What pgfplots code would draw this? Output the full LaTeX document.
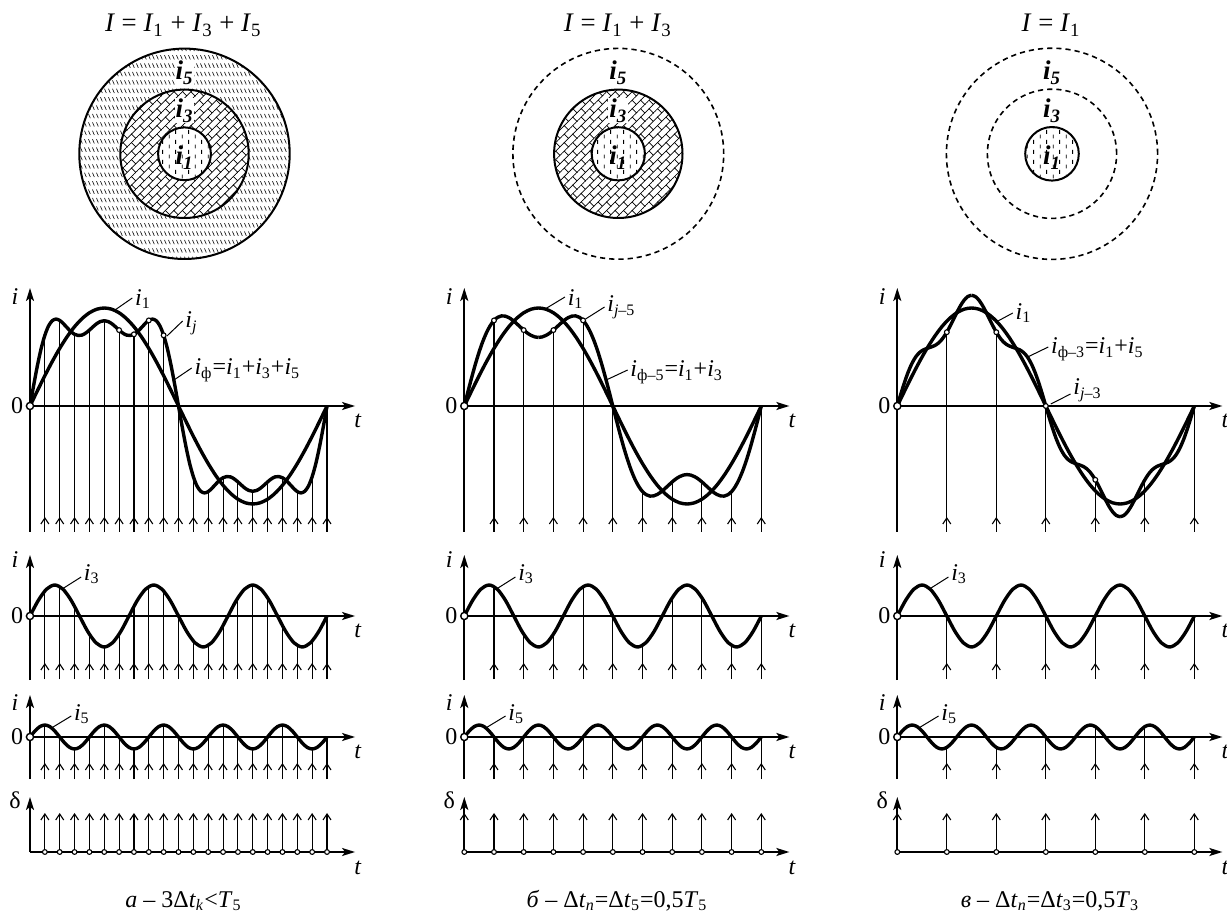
\documentclass[border=0pt]{standalone}
\usepackage{fontspec}
\setmainfont{Liberation Serif}
\usepackage{pgfplots}
\pgfplotsset{compat=1.18}
\usepackage{pgfplotstable}
\usetikzlibrary{arrows.meta,patterns.meta}

\newcommand{\sub}[1]{\textsubscript{#1}}

% ---- fill patterns for the three harmonic zones ----
\pgfdeclarepattern{
  name=slashrows,
  bottom left={\pgfpoint{-0.1pt}{-0.1pt}},
  top right={\pgfpoint{2.1pt}{4.3pt}},
  tile size={\pgfpoint{2pt}{4.2pt}},
  code={
    \pgfsetlinewidth{0.3pt}
    \pgfpathmoveto{\pgfpoint{0.25pt}{3.5pt}}
    \pgfpathlineto{\pgfpoint{1.15pt}{1.4pt}}
    \pgfusepath{stroke}
  }
}
\pgfdeclarepattern{
  name=brickwall,
  bottom left={\pgfpoint{-0.3pt}{-0.3pt}},
  top right={\pgfpoint{6.3pt}{6.3pt}},
  tile size={\pgfpoint{6pt}{6pt}},
  tile transformation={\pgftransformrotate{45}},
  code={
    \pgfsetlinewidth{0.35pt}
    \pgfpathmoveto{\pgfpoint{-0.3pt}{0pt}}\pgfpathlineto{\pgfpoint{6.3pt}{0pt}}
    \pgfpathmoveto{\pgfpoint{-0.3pt}{3pt}}\pgfpathlineto{\pgfpoint{6.3pt}{3pt}}
    \pgfpathmoveto{\pgfpoint{0pt}{0pt}}\pgfpathlineto{\pgfpoint{0pt}{3pt}}
    \pgfpathmoveto{\pgfpoint{3pt}{3pt}}\pgfpathlineto{\pgfpoint{3pt}{6pt}}
    \pgfusepath{stroke}
  }
}
\pgfdeclarepattern{
  name=vdashes,
  bottom left={\pgfpoint{0pt}{0pt}},
  top right={\pgfpoint{6.4pt}{5pt}},
  tile size={\pgfpoint{6.4pt}{5pt}},
  code={
    \pgfsetlinewidth{0.4pt}
    \pgfpathmoveto{\pgfpoint{1.6pt}{0.3pt}}\pgfpathlineto{\pgfpoint{1.6pt}{2.4pt}}
    \pgfpathmoveto{\pgfpoint{4.8pt}{2.8pt}}\pgfpathlineto{\pgfpoint{4.8pt}{4.9pt}}
    \pgfusepath{stroke}
  }
}

% ---- data: phase th in degrees of the fundamental (360 = one period T) ----
% fundamental i1
\pgfplotstableread{
th i1
0 0
9 15.3
18 30.3
27 44.5
36 57.6
45 69.3
54 79.3
63 87.3
72 93.2
81 96.8
90 98
99 96.8
108 93.2
117 87.3
126 79.3
135 69.3
144 57.6
153 44.5
162 30.3
171 15.3
180 0
189 -15.3
198 -30.3
207 -44.5
216 -57.6
225 -69.3
234 -79.3
243 -87.3
252 -93.2
261 -96.8
270 -98
279 -96.8
288 -93.2
297 -87.3
306 -79.3
315 -69.3
324 -57.6
333 -44.5
342 -30.3
351 -15.3
360 0
}\fund

% resulting currents: sa = i1+i3+i5, sb = i1+i3, sc = i1+i5
\pgfplotstableread{
th sa sb sc
0 0 0 0
4.5 20.9 14.6 12.6
9 40.5 28.7 24.3
13.5 57.4 42.0 34.6
18 70.7 54.1 43.0
22.5 80.1 64.7 49.3
27 85.3 73.5 53.5
31.5 86.9 80.5 56.1
36 85.6 85.6 57.6
40.5 82.3 88.7 58.8
45 78.3 90.1 60.3
49.5 74.5 89.9 62.7
54 71.7 88.4 66.5
58.5 70.5 85.9 71.8
63 70.9 82.7 78.3
67.5 72.9 79.3 85.7
72 75.9 75.9 93.2
76.5 79.3 72.9 100.2
81 82.4 70.6 105.8
85.5 84.5 69.1 109.5
90 85.3 68.6 110.7
94.5 84.5 69.1 109.5
99 82.4 70.6 105.8
103.5 79.3 72.9 100.2
108 75.9 75.9 93.2
112.5 72.9 79.3 85.7
117 70.9 82.7 78.3
121.5 70.5 85.9 71.8
126 71.7 88.4 66.5
130.5 74.5 89.9 62.7
135 78.3 90.1 60.3
139.5 82.3 88.7 58.8
144 85.6 85.6 57.6
148.5 86.9 80.5 56.1
153 85.3 73.5 53.5
157.5 80.1 64.7 49.3
162 70.7 54.1 43.0
166.5 57.4 42.0 34.6
171 40.5 28.7 24.3
175.5 20.9 14.6 12.6
180 0 0 0
184.5 -20.9 -14.6 -12.6
189 -40.5 -28.7 -24.3
193.5 -57.4 -42.0 -34.6
198 -70.7 -54.1 -43.0
202.5 -80.1 -64.7 -49.3
207 -85.3 -73.5 -53.5
211.5 -86.9 -80.5 -56.1
216 -85.6 -85.6 -57.6
220.5 -82.3 -88.7 -58.8
225 -78.3 -90.1 -60.3
229.5 -74.5 -89.9 -62.7
234 -71.7 -88.4 -66.5
238.5 -70.5 -85.9 -71.8
243 -70.9 -82.7 -78.3
247.5 -72.9 -79.3 -85.7
252 -75.9 -75.9 -93.2
256.5 -79.3 -72.9 -100.2
261 -82.4 -70.6 -105.8
265.5 -84.5 -69.1 -109.5
270 -85.3 -68.6 -110.7
274.5 -84.5 -69.1 -109.5
279 -82.4 -70.6 -105.8
283.5 -79.3 -72.9 -100.2
288 -75.9 -75.9 -93.2
292.5 -72.9 -79.3 -85.7
297 -70.9 -82.7 -78.3
301.5 -70.5 -85.9 -71.8
306 -71.7 -88.4 -66.5
310.5 -74.5 -89.9 -62.7
315 -78.3 -90.1 -60.3
319.5 -82.3 -88.7 -58.8
324 -85.6 -85.6 -57.6
328.5 -86.9 -80.5 -56.1
333 -85.3 -73.5 -53.5
337.5 -80.1 -64.7 -49.3
342 -70.7 -54.1 -43.0
346.5 -57.4 -42.0 -34.6
351 -40.5 -28.7 -24.3
355.5 -20.9 -14.6 -12.6
360 0 0 0
}\sums

% third harmonic i3
\pgfplotstableread{
th i3
0 0
10 15.5
20 26.8
30 31
40 26.8
50 15.5
60 0
70 -15.5
80 -26.8
90 -31
100 -26.8
110 -15.5
120 0
130 15.5
140 26.8
150 31
160 26.8
170 15.5
180 0
190 -15.5
200 -26.8
210 -31
220 -26.8
230 -15.5
240 0
250 15.5
260 26.8
270 31
280 26.8
290 15.5
300 0
310 -15.5
320 -26.8
330 -31
340 -26.8
350 -15.5
360 0
}\third

% fifth harmonic i5
\pgfplotstableread{
th i5
0 0
6 6
12 10.4
18 12
24 10.4
30 6
36 0
42 -6
48 -10.4
54 -12
60 -10.4
66 -6
72 0
78 6
84 10.4
90 12
96 10.4
102 6
108 0
114 -6
120 -10.4
126 -12
132 -10.4
138 -6
144 0
150 6
156 10.4
162 12
168 10.4
174 6
180 0
186 -6
192 -10.4
198 -12
204 -10.4
210 -6
216 0
222 6
228 10.4
234 12
240 10.4
246 6
252 0
258 -6
264 -10.4
270 -12
276 -10.4
282 -6
288 0
294 6
300 10.4
306 12
312 10.4
318 6
324 0
330 -6
336 -10.4
342 -12
348 -10.4
354 -6
360 0
}\fifth

% sampled values: m = resulting current, a = i3, b = i5
\pgfplotstableread{
th m a b
18 70.7 25.1 12
36 85.6 29.5 0
54 71.7 9.6 -12
72 75.9 -18.2 0
90 85.3 -31 12
108 75.9 -18.2 0
126 71.7 9.6 -12
144 85.6 29.5 0
162 70.7 25.1 12
180 0 0 0
198 -70.7 -25.1 -12
216 -85.6 -29.5 0
234 -71.7 -9.6 12
252 -75.9 18.2 0
270 -85.3 31 -12
288 -75.9 18.2 0
306 -71.7 -9.6 12
324 -85.6 -29.5 0
342 -70.7 -25.1 -12
360 0 0 0
}\sampA
\pgfplotstableread{
th m a b
36 85.6 29.5 0
72 75.9 -18.2 0
108 75.9 -18.2 0
144 85.6 29.5 0
180 0 0 0
216 -85.6 -29.5 0
252 -75.9 18.2 0
288 -75.9 18.2 0
324 -85.6 -29.5 0
360 0 0 0
}\sampB
\pgfplotstableread{
th m a b
60 73.8 0 -10.4
120 73.8 0 -10.4
180 0 0 0
240 -73.8 0 10.4
300 -73.8 0 10.4
360 0 0 0
}\sampC

% delta pulses (base level z, pulse height h)
\pgfplotstableread{
th z h
18 0 39
36 0 39
54 0 39
72 0 39
90 0 39
108 0 39
126 0 39
144 0 39
162 0 39
180 0 39
198 0 39
216 0 39
234 0 39
252 0 39
270 0 39
288 0 39
306 0 39
324 0 39
342 0 39
360 0 39
}\pulseA
\pgfplotstableread{
th z h
0 0 39
36 0 39
72 0 39
108 0 39
144 0 39
180 0 39
216 0 39
252 0 39
288 0 39
324 0 39
360 0 39
}\pulseB
\pgfplotstableread{
th z h
0 0 39
60 0 39
120 0 39
180 0 39
240 0 39
300 0 39
360 0 39
}\pulseC

\pgfplotsset{
  wave/.style={
    x=0.4125pt, y=0.5pt, xmin=0, xmax=394,
    axis lines=middle,
    axis line style={line width=0.9pt},
    every inner x axis line/.append style={-{Stealth[length=6.5pt,width=4pt,inset=1.5pt]}},
    every inner y axis line/.append style={-{Stealth[length=6.5pt,width=4pt,inset=1.5pt]}},
    xtick=\empty, ytick=\empty,
    clip=false, enlargelimits=false, anchor=origin,
  },
  curve/.style={line width=1.7pt, smooth, line join=round},
  stem/.style={line width=0.55pt},
  tip/.style={line width=0.55pt, -{Straight Barb[length=3pt,width=4pt]}},
  hole/.style={only marks, mark=*, mark size=1.8pt, mark options={fill=white, draw=black, line width=0.7pt}},
  dot/.style={only marks, mark=*, mark size=1.2pt, mark options={fill=white, draw=black, line width=0.55pt}},
}
\tikzset{
  lead/.style={line width=0.5pt},
  lbl/.style={font=\fontsize{12}{14}\selectfont, inner sep=0.8pt, anchor=west},
  ax/.style={font=\fontsize{12}{14}\selectfont, inner sep=0pt},
  ttl/.style={font=\fontsize{13.4}{15}\selectfont, anchor=base},
  capt/.style={font=\fontsize{12}{14}\selectfont, anchor=base},
  zone/.style={font=\bfseries\itshape\fontsize{13.5}{15}\selectfont, anchor=base, inner sep=0.5pt},
  ring/.style={line width=1pt},
  dring/.style={line width=0.8pt, dash pattern=on 2.6pt off 2pt},
}

\begin{document}
\begin{tikzpicture}
\useasboundingbox (0,0) rectangle (613.5pt,-459.5pt);

% ================= zone diagrams, titles, axis letters, captions =================
\begin{scope}[x=0.5pt,y=-0.5pt]
  % column a
  \fill[pattern=slashrows] (184.5,153.8) circle[radius=52.6pt];
  \fill[white] (184.5,153.8) circle[radius=32.1pt];
  \fill[pattern=brickwall] (184.5,153.8) circle[radius=32.1pt];
  \fill[white] (184.5,153.8) circle[radius=13.2pt];
  \fill[pattern=vdashes] (184.5,153.8) circle[radius=13.2pt];
  \draw[ring] (184.5,153.8) circle[radius=52.6pt];
  \draw[ring] (184.5,153.8) circle[radius=32.1pt];
  \draw[ring] (184.5,153.8) circle[radius=13.2pt];
  \node[zone, fill=white] at (184.5,80) {i\sub{5}};
  \node[zone, fill=white] at (184.5,118) {i\sub{3}};
  \node[zone] at (184.5,165) {i\sub{1}};
  \node[ttl] at (183.3,31.7) {\textit{I} = \textit{I}\sub{1} + \textit{I}\sub{3} + \textit{I}\sub{5}};

  % column b
  \fill[pattern=brickwall] (618.3,153.8) circle[radius=32.1pt];
  \fill[white] (618.3,153.8) circle[radius=13.3pt];
  \fill[pattern=vdashes] (618.3,153.8) circle[radius=13.3pt];
  \draw[dring] (618.3,153.8) circle[radius=52.7pt];
  \draw[ring] (618.3,153.8) circle[radius=32.1pt];
  \draw[ring] (618.3,153.8) circle[radius=13.3pt];
  \node[zone] at (618.3,80) {i\sub{5}};
  \node[zone, fill=white] at (618.3,118) {i\sub{3}};
  \node[zone] at (618.3,165) {i\sub{1}};
  \node[ttl] at (617.8,31.7) {\textit{I} = \textit{I}\sub{1} + \textit{I}\sub{3}};

  % column c
  \fill[pattern=vdashes] (1052,153.8) circle[radius=13.4pt];
  \draw[dring] (1052,153.8) circle[radius=52.8pt];
  \draw[dring] (1052,153.8) circle[radius=32.3pt];
  \draw[ring] (1052,153.8) circle[radius=13.4pt];
  \node[zone] at (1052,80) {i\sub{5}};
  \node[zone] at (1052,118) {i\sub{3}};
  \node[zone] at (1052,165) {i\sub{1}};
  \node[ttl] at (1051,31.7) {\textit{I} = \textit{I}\sub{1}};

  % axis letters for the three columns
  \foreach \xo in {30,464.3,897.3}{
    \node[ax] at (\xo-15,297) {\textit{i}};
    \node[ax] at (\xo-13,406) {0};
    \node[ax] at (\xo+328,421) {\textit{t}};
    \node[ax] at (\xo-15,560) {\textit{i}};
    \node[ax] at (\xo-13,616) {0};
    \node[ax] at (\xo+328,631) {\textit{t}};
    \node[ax] at (\xo-15,703) {\textit{i}};
    \node[ax] at (\xo-13,737) {0};
    \node[ax] at (\xo+328,752) {\textit{t}};
    \node[ax] at (\xo-15,800) {δ};
    \node[ax] at (\xo+328,868) {\textit{t}};
  }

  % captions
  \node[capt] at (183.5,907) {\textit{а} – 3Δ\textit{t}\sub{\textit{k}}<\textit{T}\sub{5}};
  \node[capt] at (617,907) {\textit{б} – Δ\textit{t}\sub{\textit{n}}=Δ\textit{t}\sub{5}=0,5\textit{T}\sub{5}};
  \node[capt] at (1050,907) {\textit{в} – Δ\textit{t}\sub{\textit{n}}=Δ\textit{t}\sub{3}=0,5\textit{T}\sub{3}};
\end{scope}

% ================= column a: 3 dt_k < T5 =================
\begin{axis}[wave, at={(15pt,-203pt)}, ymin=-126, ymax=118]
  \addplot[stem, quiver={u=0,v=\thisrow{m}+126}] table[x=th, y expr=-126] {\sampA};
  \addplot[tip, quiver={u=0,v=15}] table[x=th, y expr=-126] {\sampA};
  \addplot[curve] table[x=th, y=i1] {\fund};
  \addplot[curve] table[x=th, y=sa] {\sums};
  \addplot[dot] coordinates {(108,75.9) (126,71.7) (144,85.6) (162,70.7)};
  \addplot[hole] coordinates {(0,0)};
  \draw[lead] (axis cs:103,96) -- (axis cs:124,108);
  \node[lbl] at (axis cs:125,107) {\textit{i}\sub{1}};
  \draw[lead] (axis cs:166,70) -- (axis cs:185,85);
  \node[lbl] at (axis cs:186,83) {\textit{i}\sub{\textit{j}}};
  \draw[lead] (axis cs:174.5,26) -- (axis cs:196,38);
  \node[lbl] at (axis cs:197,36) {\textit{i}\sub{ф}=\textit{i}\sub{1}+\textit{i}\sub{3}+\textit{i}\sub{5}};
\end{axis}
\begin{axis}[wave, at={(15pt,-308pt)}, ymin=-64, ymax=61]
  \addplot[stem, quiver={u=0,v=\thisrow{a}+63}] table[x=th, y expr=-63] {\sampA};
  \addplot[tip, quiver={u=0,v=16}] table[x=th, y expr=-63] {\sampA};
  \addplot[curve] table[x=th, y=i3] {\third};
  \addplot[hole] coordinates {(0,0)};
  \draw[lead] (axis cs:39,27) -- (axis cs:62,39);
  \node[lbl] at (axis cs:63,42) {\textit{i}\sub{3}};
\end{axis}
\begin{axis}[wave, at={(15pt,-368.5pt)}, ymin=-42, ymax=42]
  \addplot[stem, quiver={u=0,v=\thisrow{b}+42}] table[x=th, y expr=-42] {\sampA};
  \addplot[tip, quiver={u=0,v=16}] table[x=th, y expr=-42] {\sampA};
  \addplot[curve] table[x=th, y=i5] {\fifth};
  \addplot[hole] coordinates {(0,0)};
  \draw[lead] (axis cs:26,9) -- (axis cs:50,21);
  \node[lbl] at (axis cs:51,23) {\textit{i}\sub{5}};
\end{axis}
\begin{axis}[wave, at={(15pt,-426pt)}, ymin=0, ymax=55]
  \addplot[tip, quiver={u=0,v=\thisrow{h}}] table[x=th, y=z] {\pulseA};
  \addplot[dot] table[x=th, y=z] {\pulseA};
\end{axis}

% ================= column b: dt_n = dt_5 = 0.5 T5 =================
\begin{axis}[wave, at={(232.15pt,-203pt)}, ymin=-126, ymax=118]
  \addplot[stem, quiver={u=0,v=\thisrow{m}+126}] table[x=th, y expr=-126] {\sampB};
  \addplot[tip, quiver={u=0,v=15}] table[x=th, y expr=-126] {\sampB};
  \addplot[curve] table[x=th, y=i1] {\fund};
  % the resulting current is drawn with corners at T/4 and 3T/4
  \addplot[curve, restrict x to domain=0:90] table[x=th, y=sb] {\sums};
  \addplot[curve, restrict x to domain=90:270] table[x=th, y=sb] {\sums};
  \addplot[curve, restrict x to domain=270:360] table[x=th, y=sb] {\sums};
  \addplot[dot] coordinates {(36,85.6) (72,75.9) (108,75.9) (144,85.6)};
  \addplot[hole] coordinates {(0,0)};
  \draw[lead] (axis cs:98,97) -- (axis cs:122,109);
  \node[lbl] at (axis cs:123,107) {\textit{i}\sub{1}};
  \draw[lead] (axis cs:147,87) -- (axis cs:170,99);
  \node[lbl] at (axis cs:171,99) {\textit{i}\sub{\textit{j}–5}};
  \draw[lead] (axis cs:172,26) -- (axis cs:198,36);
  \node[lbl] at (axis cs:199,34) {\textit{i}\sub{ф–5}=\textit{i}\sub{1}+\textit{i}\sub{3}};
\end{axis}
\begin{axis}[wave, at={(232.15pt,-308pt)}, ymin=-64, ymax=61]
  \addplot[stem, quiver={u=0,v=\thisrow{a}+63}] table[x=th, y expr=-63] {\sampB};
  \addplot[tip, quiver={u=0,v=16}] table[x=th, y expr=-63] {\sampB};
  \addplot[curve] table[x=th, y=i3] {\third};
  \addplot[hole] coordinates {(0,0)};
  \draw[lead] (axis cs:39,27) -- (axis cs:62,39);
  \node[lbl] at (axis cs:63,42) {\textit{i}\sub{3}};
\end{axis}
\begin{axis}[wave, at={(232.15pt,-368.5pt)}, ymin=-42, ymax=42]
  \addplot[stem, quiver={u=0,v=\thisrow{b}+42}] table[x=th, y expr=-42] {\sampB};
  \addplot[tip, quiver={u=0,v=16}] table[x=th, y expr=-42] {\sampB};
  \addplot[curve] table[x=th, y=i5] {\fifth};
  \addplot[hole] coordinates {(0,0)};
  \draw[lead] (axis cs:26,9) -- (axis cs:50,21);
  \node[lbl] at (axis cs:51,23) {\textit{i}\sub{5}};
\end{axis}
\begin{axis}[wave, at={(232.15pt,-426pt)}, ymin=0, ymax=55]
  \addplot[tip, quiver={u=0,v=\thisrow{h}}] table[x=th, y=z] {\pulseB};
  \addplot[dot] table[x=th, y=z] {\pulseB};
\end{axis}

% ================= column c: dt_n = dt_3 = 0.5 T3 =================
\begin{axis}[wave, at={(448.65pt,-203pt)}, ymin=-126, ymax=118]
  \addplot[stem, quiver={u=0,v=\thisrow{m}+126}] table[x=th, y expr=-126] {\sampC};
  \addplot[tip, quiver={u=0,v=15}] table[x=th, y expr=-126] {\sampC};
  \addplot[curve] table[x=th, y=i1] {\fund};
  \addplot[curve, restrict x to domain=0:90] table[x=th, y=sc] {\sums};
  \addplot[curve, restrict x to domain=90:270] table[x=th, y=sc] {\sums};
  \addplot[curve, restrict x to domain=270:360] table[x=th, y=sc] {\sums};
  \addplot[dot] coordinates {(60,73.8) (120,73.8) (180,0) (240,-73.8)};
  \addplot[hole] coordinates {(0,0)};
  \draw[lead] (axis cs:122,85) -- (axis cs:140,93);
  \node[lbl] at (axis cs:141,93) {\textit{i}\sub{1}};
  \draw[lead] (axis cs:158,49) -- (axis cs:183,59);
  \node[lbl] at (axis cs:184,57) {\textit{i}\sub{ф–3}=\textit{i}\sub{1}+\textit{i}\sub{5}};
  \draw[lead] (axis cs:186,2) -- (axis cs:210,12);
  \node[lbl] at (axis cs:211,16) {\textit{i}\sub{\textit{j}–3}};
\end{axis}
\begin{axis}[wave, at={(448.65pt,-308pt)}, ymin=-64, ymax=61]
  \addplot[stem, quiver={u=0,v=\thisrow{a}+63}] table[x=th, y expr=-63] {\sampC};
  \addplot[tip, quiver={u=0,v=16}] table[x=th, y expr=-63] {\sampC};
  \addplot[curve] table[x=th, y=i3] {\third};
  \addplot[hole] coordinates {(0,0)};
  \draw[lead] (axis cs:39,27) -- (axis cs:62,39);
  \node[lbl] at (axis cs:63,42) {\textit{i}\sub{3}};
\end{axis}
\begin{axis}[wave, at={(448.65pt,-368.5pt)}, ymin=-42, ymax=42]
  \addplot[stem, quiver={u=0,v=\thisrow{b}+42}] table[x=th, y expr=-42] {\sampC};
  \addplot[tip, quiver={u=0,v=16}] table[x=th, y expr=-42] {\sampC};
  \addplot[curve] table[x=th, y=i5] {\fifth};
  \addplot[hole] coordinates {(0,0)};
  \draw[lead] (axis cs:26,9) -- (axis cs:50,21);
  \node[lbl] at (axis cs:51,23) {\textit{i}\sub{5}};
\end{axis}
\begin{axis}[wave, at={(448.65pt,-426pt)}, ymin=0, ymax=55]
  \addplot[tip, quiver={u=0,v=\thisrow{h}}] table[x=th, y=z] {\pulseC};
  \addplot[dot] table[x=th, y=z] {\pulseC};
\end{axis}
\end{tikzpicture}
\end{document}
